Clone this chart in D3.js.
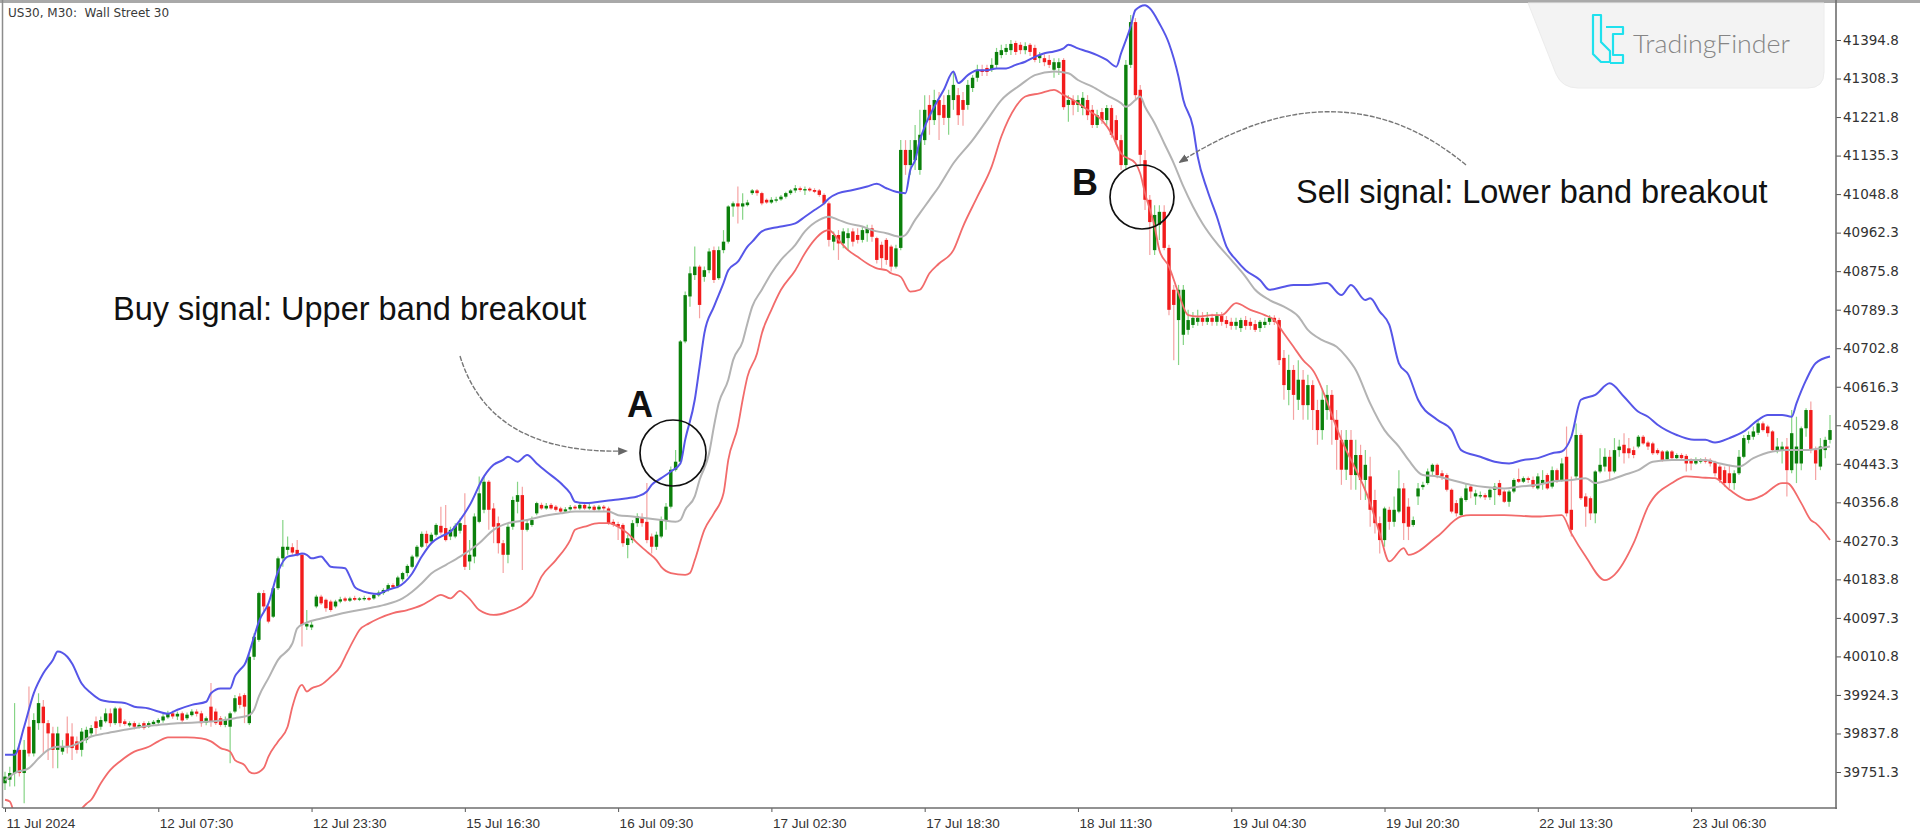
<!DOCTYPE html>
<html><head><meta charset="utf-8">
<script src="https://cdn.jsdelivr.net/npm/d3@7"></script>
<style>html,body{margin:0;padding:0;background:#fff;overflow:hidden}</style>
</head><body>
<svg id="chart" width="1920" height="840"></svg>
<script>
const chartTitle = "US30, M30:  Wall Street 30";
const priceTicks = [41394.8,41308.3,41221.8,41135.3,41048.8,40962.3,40875.8,40789.3,40702.8,40616.3,40529.8,40443.3,40356.8,40270.3,40183.8,40097.3,40010.8,39924.3,39837.8,39751.3];
const timeLabels = ["11 Jul 2024","12 Jul 07:30","12 Jul 23:30","15 Jul 16:30","16 Jul 09:30","17 Jul 02:30","17 Jul 18:30","18 Jul 11:30","19 Jul 04:30","19 Jul 20:30","22 Jul 13:30","23 Jul 06:30"];
const timeLabelBars = [0,32,64,96,128,160,192,224,256,288,320,352];

// [open, high, low, close] per M30 bar
const ohlc = [
[39726,39752,39711,39741],[39734,39763,39719,39749],[39749,39906,39719,39801],[39801,39816,39741,39749],[39749,39823,39681,39801],
[39853,39943,39786,39793],[39793,39883,39786,39868],[39861,39928,39846,39906],[39898,39913,39793,39861],[39861,39868,39778,39838],
[39838,39853,39760,39801],[39801,39853,39760,39838],[39797,39823,39790,39808],[39838,39876,39793,39808],[39831,39861,39778,39805],
[39820,39831,39793,39801],[39801,39850,39786,39842],[39823,39853,39816,39846],[39838,39857,39831,39850],[39865,39876,39835,39850],
[39853,39876,39846,39868],[39865,39894,39861,39883],[39883,39894,39853,39861],[39861,39898,39857,39894],[39894,39898,39853,39861],
[39865,39870,39855,39859],[39856,39865,39852,39861],[39861,39865,39847,39853],[39852,39862,39849,39857],[39861,39865,39846,39850],
[39853,39865,39850,39861],[39859,39868,39855,39864],[39862,39872,39859,39868],[39867,39882,39862,39876],[39874,39889,39871,39883],
[39883,39889,39871,39876],[39876,39887,39868,39882],[39883,39887,39862,39867],[39872,39885,39868,39880],[39879,39892,39876,39887],
[39887,39892,39876,39882],[39883,39889,39853,39861],[39862,39876,39856,39872],[39898,39951,39853,39865],[39887,39894,39857,39861],
[39872,39877,39853,39857],[39857,39876,39852,39868],[39853,39887,39771,39883],[39887,39924,39883,39917],[39921,39928,39894,39902],
[39924,39928,39861,39898],[39861,40018,39857,40010],[40010,40063,40003,40055],[40048,40156,40044,40153],[40153,40160,40108,40123],
[40123,40130,40085,40089],[40100,40168,40097,40164],[40164,40235,40160,40231],[40231,40317,40212,40257],[40250,40280,40239,40257],
[40256,40265,40239,40244],[40250,40272,40235,40239],[40239,40242,40033,40082],[40078,40115,40070,40084],[40076,40089,40070,40082],
[40123,40149,40119,40145],[40145,40149,40126,40130],[40138,40141,40111,40119],[40134,40138,40111,40115],[40123,40138,40119,40134],
[40134,40145,40130,40139],[40141,40145,40133,40136],[40136,40145,40133,40141],[40142,40147,40135,40138],[40138,40144,40135,40141],
[40139,40147,40136,40142],[40142,40145,40135,40138],[40141,40153,40138,40149],[40148,40159,40145,40154],[40153,40164,40149,40160],
[40160,40175,40156,40171],[40171,40175,40162,40166],[40168,40192,40164,40188],[40184,40201,40179,40198],[40198,40218,40190,40214],
[40212,40239,40209,40235],[40235,40261,40231,40257],[40257,40291,40254,40286],[40286,40293,40257,40265],[40269,40289,40265,40284],
[40284,40310,40280,40306],[40304,40347,40284,40289],[40299,40351,40269,40272],[40280,40302,40272,40295],[40280,40310,40276,40304],
[40293,40321,40287,40310],[40306,40377,40205,40212],
[40224,40272,40205,40239],[40235,40332,40220,40325],[40313,40415,40310,40377],[40340,40415,40332,40403],[40403,40407,40295,40340],
[40343,40355,40265,40302],[40310,40325,40242,40265],[40265,40272,40198,40239],[40239,40310,40220,40302],[40302,40370,40295,40362],
[40358,40403,40332,40373],[40373,40392,40205,40295],[40295,40317,40291,40310],[40306,40325,40302,40317],[40332,40358,40328,40355],
[40351,40356,40340,40343],[40343,40355,40340,40349],[40351,40355,40340,40343],[40347,40351,40336,40340],[40343,40347,40332,40336],
[40336,40346,40334,40341],[40341,40351,40338,40346],[40347,40351,40340,40343],[40343,40355,40340,40351],[40351,40355,40340,40343],
[40343,40353,40340,40347],[40347,40351,40336,40340],[40341,40351,40338,40347],[40347,40351,40338,40343],[40343,40347,40306,40310],
[40313,40319,40302,40306],[40308,40313,40272,40302],[40306,40310,40257,40265],[40261,40284,40231,40276],[40272,40317,40265,40310],
[40310,40332,40302,40325],[40323,40332,40302,40310],[40313,40400,40265,40272],[40280,40287,40242,40257],[40257,40291,40250,40284],
[40280,40325,40276,40317],[40317,40355,40295,40347],[40347,40437,40343,40430],[40430,40474,40426,40448],[40448,40721,40444,40718],
[40718,40830,40714,40822],[40819,40886,40796,40871],[40867,40931,40856,40886],[40886,40890,40770,40800],[40863,40886,40852,40878],
[40878,40927,40871,40920],[40923,40931,40849,40856],[40860,40931,40856,40923],[40923,40968,40916,40942],[40942,41024,40938,41021],
[41021,41032,40998,41028],[41028,41066,40983,41021],[41021,41051,40991,41028],[41024,41036,41021,41030],[41051,41060,41047,41057],
[41057,41060,41045,41051],[41051,41054,41024,41028],[41036,41039,41027,41030],[41030,41042,41027,41036],[41034,41043,41030,41037],
[41037,41047,41034,41043],[41043,41054,41039,41051],[41051,41060,41047,41057],[41057,41069,41052,41062],[41062,41066,41054,41058],
[41057,41066,41047,41060],[41061,41064,41054,41057],[41058,41062,41051,41054],[41057,41060,41043,41047],[41047,41051,41024,41028],
[41028,41032,40931,40946],[40942,40965,40923,40957],[40957,40968,40901,40938],[40938,40972,40927,40965],[40950,40972,40923,40961],
[40965,40972,40931,40942],[40957,40972,40938,40946],[40946,40976,40940,40968],[40961,40980,40942,40972],[40972,40980,40942,40953],
[40950,40953,40893,40901],[40935,40942,40882,40905],[40946,40950,40890,40901],[40931,40935,40875,40886],[40886,40935,40882,40927],
[40928,41170,40923,41148],[41148,41170,41092,41114],[41114,41170,41092,41148],[41125,41204,41103,41170],[41103,41238,41092,41182],
[41170,41271,41159,41238],[41249,41271,41182,41215],[41215,41283,41204,41260],[41260,41278,41170,41226],[41249,41271,41204,41220],
[41220,41283,41182,41271],[41260,41323,41238,41294],[41271,41287,41204,41226],[41260,41278,41202,41238],[41249,41305,41238,41294],
[41287,41316,41278,41310],[41310,41339,41301,41328],[41328,41339,41314,41323],[41332,41339,41314,41323],[41328,41354,41323,41339],
[41339,41377,41332,41368],[41361,41384,41354,41372],[41368,41386,41361,41377],[41372,41395,41361,41386],[41388,41393,41361,41368],
[41384,41390,41363,41372],[41372,41390,41363,41381],[41384,41388,41359,41368],[41377,41384,41345,41350],[41354,41368,41343,41361],
[41354,41363,41336,41345],[41350,41361,41332,41339],[41328,41354,41310,41345],[41332,41354,41316,41345],[41350,41354,41238,41244],
[41249,41271,41211,41260],[41260,41271,41226,41249],[41249,41271,41233,41260],[41242,41278,41226,41265],[41260,41271,41215,41226],
[41238,41249,41197,41204],[41204,41238,41197,41226],[41233,41242,41206,41215],[41215,41249,41204,41242],[41242,41249,41175,41182],
[41215,41226,41159,41170],[41170,41182,41103,41114],[41114,41350,41103,41339],[41339,41451,41332,41435],[41435,41444,41260,41271],
[41283,41294,41114,41137],[41125,41148,41013,41036],[41036,41047,40912,40986],[40923,41024,40912,41002],[40980,41024,40946,41009],
[41009,41024,40923,40928],[40928,40935,40777,40789],[40834,40845,40676,40800],[40766,40845,40665,40834],[40733,40845,40710,40834],
[40744,40789,40733,40766],[40755,40784,40748,40771],[40762,40789,40753,40771],[40771,40784,40753,40762],[40762,40784,40755,40771],
[40771,40780,40753,40762],[40762,40784,40753,40775],[40775,40784,40753,40762],[40766,40775,40748,40757],[40762,40771,40744,40753],
[40753,40771,40744,40762],[40748,40771,40739,40766],[40766,40775,40744,40753],[40762,40771,40744,40753],[40757,40766,40739,40744],
[40748,40766,40739,40762],[40755,40771,40748,40762],[40762,40777,40755,40771],[40771,40777,40755,40762],[40766,40771,40665,40676],
[40681,40699,40587,40620],[40609,40688,40575,40654],[40654,40665,40542,40598],[40587,40676,40564,40632],[40632,40654,40542,40575],
[40575,40643,40542,40620],[40620,40631,40519,40564],[40564,40587,40486,40519],[40519,40609,40497,40587],[40564,40620,40542,40598],
[40598,40609,40486,40542],[40542,40564,40430,40497],[40497,40519,40396,40430],[40430,40519,40407,40497],[40497,40519,40385,40418],
[40418,40497,40385,40463],[40463,40486,40362,40407],[40407,40474,40362,40441],
[40415,40459,40302,40340],[40362,40385,40287,40310],[40310,40325,40242,40272],[40272,40347,40257,40343],[40340,40347,40295,40313],
[40313,40370,40302,40340],[40336,40429,40332,40388],[40388,40400,40272,40310],[40347,40366,40272,40302],[40306,40325,40302,40317],
[40370,40400,40351,40388],[40391,40403,40385,40396],[40400,40433,40396,40426],[40426,40444,40418,40441],[40441,40444,40411,40418],
[40422,40429,40407,40415],[40418,40422,40381,40385],[40385,40388,40332,40336],[40355,40362,40325,40332],[40328,40370,40325,40366],
[40362,40400,40358,40388],[40392,40396,40366,40381],[40370,40385,40351,40377],[40370,40381,40366,40373],[40373,40377,40362,40368],
[40368,40388,40362,40385],[40385,40400,40351,40392],[40400,40407,40370,40373],[40381,40385,40355,40358],[40358,40385,40347,40381],
[40381,40411,40377,40407],[40409,40433,40400,40403],[40403,40415,40400,40411],[40411,40415,40400,40407],[40407,40415,40388,40392],
[40388,40422,40385,40415],[40400,40429,40385,40407],[40418,40422,40385,40388],[40392,40437,40388,40429],[40429,40433,40400,40407],
[40407,40456,40403,40444],[40459,40527,40325,40332],[40340,40415,40280,40295],[40415,40534,40407,40508],[40508,40512,40362,40366],
[40370,40377,40302,40347],[40366,40370,40317,40332],[40332,40429,40310,40426],[40426,40478,40422,40441],[40437,40478,40426,40459],
[40459,40474,40407,40426],[40426,40501,40422,40474],[40474,40497,40459,40482],[40486,40512,40444,40467],[40478,40501,40456,40467],
[40474,40482,40456,40463],[40482,40508,40478,40504],[40504,40508,40486,40489],[40491,40495,40474,40482],[40489,40493,40463,40467],
[40474,40478,40463,40467],[40471,40474,40448,40452],[40453,40474,40450,40471],[40471,40474,40452,40456],[40456,40467,40452,40463],
[40463,40467,40452,40456],[40461,40465,40426,40444],[40452,40456,40429,40444],[40444,40458,40441,40453],[40448,40456,40444,40452],
[40453,40458,40444,40448],[40452,40456,40437,40444],[40446,40450,40415,40422],[40437,40441,40400,40407],[40429,40437,40392,40400],
[40422,40441,40388,40400],[40400,40429,40385,40422],[40422,40474,40418,40459],[40459,40508,40456,40501],[40497,40516,40489,40508],
[40504,40527,40497,40516],[40513,40542,40508,40534],[40534,40538,40516,40519],[40527,40531,40504,40512],[40516,40519,40471,40474],
[40474,40501,40467,40482],[40474,40493,40444,40482],[40482,40501,40370,40429],[40429,40564,40422,40512],[40444,40549,40400,40482],
[40444,40527,40429,40523],[40523,40568,40504,40564],[40564,40583,40467,40474],[40474,40482,40407,40444],[40437,40501,40429,40482],
[40474,40504,40456,40497],[40497,40553,40489,40519]
];

// Bollinger bands: [bar, value]
const upperBand = [[0,39790],[2,39790],[4,39853],[6,39928],[8,39973],[10,40003],[11,40022],[13,40010],[14,39995],[16,39950],[18,39928],[20,39913],[22,39909],[25,39906],[27,39898],[30,39894],[32,39887],[34,39882],[36,39891],[39,39902],[42,39909],[43,39928],[45,39939],[47,39939],[48,39966],[49,39980],[50,39992],[52,40055],[53,40089],[55,40130],[57,40201],[59,40235],[61,40239],[62,40242],[63,40239],[64,40231],[66,40235],[67,40224],[68,40212],[71,40209],[72,40190],[73,40167],[74,40160],[76,40153],[78,40151],[79,40156],[81,40164],[82,40167],[85,40197],[87,40235],[89,40265],[91,40280],[93,40291],[95,40317],[97,40350],[100,40415],[102,40441],[104,40452],[105,40459],[107,40448],[109,40463],[111,40444],[113,40426],[116,40400],[118,40377],[119,40358],[121,40355],[124,40358],[127,40362],[130,40366],[132,40370],[134,40381],[135,40396],[137,40411],[139,40426],[141,40444],[142,40497],[144,40587],[145,40661],[146,40736],[148,40796],[150,40849],[151,40878],[153,40897],[155,40931],[156,40942],[158,40965],[160,40972],[162,40976],[165,40983],[167,40998],[169,41013],[171,41028],[172,41039],[174,41051],[177,41058],[180,41066],[182,41072],[184,41062],[186,41054],[188,41051],[189,41103],[190,41125],[191,41170],[192,41200],[194,41245],[196,41283],[198,41324],[199,41298],[201,41316],[203,41327],[205,41327],[207,41331],[209,41331],[211,41339],[213,41346],[215,41357],[217,41365],[219,41369],[221,41376],[222,41384],[224,41376],[226,41369],[228,41361],[230,41350],[232,41335],[233,41365],[235,41425],[236,41462],[238,41473],[239,41466],[241,41432],[243,41387],[245,41312],[246,41260],[248,41200],[249,41133],[251,41058],[253,40998],[255,40931],[257,40901],[259,40878],[262,40856],[264,40834],[267,40841],[269,40845],[272,40845],[276,40849],[279,40822],[281,40845],[284,40811],[285,40815],[287,40785],[289,40755],[291,40669],[293,40643],[295,40587],[299,40542],[302,40519],[304,40474],[308,40459],[311,40448],[314,40444],[317,40452],[320,40456],[323,40467],[325,40471],[327,40504],[329,40587],[332,40598],[335,40624],[338,40594],[341,40560],[343,40549],[345,40531],[349,40508],[352,40498],[355,40497],[357,40491],[360,40501],[363,40516],[366,40542],[368,40553],[371,40553],[373,40549],[374,40579],[376,40631],[378,40669],[381,40684]];
const middleBand = [[0,39733],[2,39749],[5,39760],[7,39782],[9,39801],[11,39808],[13,39808],[16,39820],[18,39831],[21,39838],[25,39846],[28,39852],[32,39857],[36,39861],[39,39862],[42,39864],[45,39867],[48,39872],[51,39879],[52,39891],[53,39921],[55,39962],[57,40003],[60,40040],[61,40074],[63,40087],[66,40096],[69,40104],[72,40111],[76,40119],[79,40126],[83,40141],[85,40156],[87,40175],[89,40197],[92,40216],[95,40235],[99,40265],[102,40295],[105,40310],[109,40317],[112,40325],[116,40332],[119,40336],[123,40336],[126,40336],[128,40328],[131,40325],[134,40321],[137,40317],[140,40313],[141,40317],[142,40340],[144,40370],[145,40407],[147,40467],[148,40527],[149,40579],[151,40632],[152,40676],[154,40718],[155,40759],[156,40796],[158,40834],[160,40871],[162,40901],[165,40935],[167,40965],[170,40991],[172,40998],[174,40991],[176,40983],[179,40976],[181,40968],[184,40961],[187,40953],[188,40957],[190,40991],[191,41006],[193,41036],[195,41066],[198,41118],[202,41170],[205,41215],[208,41260],[212,41294],[215,41316],[219,41324],[222,41320],[224,41305],[227,41290],[230,41271],[233,41253],[234,41245],[236,41260],[237,41268],[238,41245],[240,41208],[242,41163],[244,41118],[246,41066],[248,41021],[250,40983],[253,40938],[256,40901],[259,40863],[261,40834],[264,40811],[267,40796],[270,40774],[272,40744],[275,40721],[278,40706],[280,40684],[282,40654],[285,40579],[288,40519],[291,40482],[293,40452],[296,40418],[299,40415],[302,40407],[306,40396],[309,40391],[313,40388],[316,40392],[320,40396],[323,40403],[327,40407],[330,40411],[332,40400],[335,40407],[338,40418],[341,40429],[344,40448],[348,40452],[351,40452],[355,40452],[358,40444],[362,40437],[365,40456],[369,40471],[372,40474],[376,40474],[379,40478],[381,40482]];
const lowerBand = [[0,39689],[1,39685],[2,39659],[4,39645],[6,39636],[8,39629],[11,39594],[13,39615],[15,39655],[17,39680],[18,39689],[20,39726],[22,39756],[24,39775],[27,39797],[30,39808],[32,39820],[34,39829],[38,39829],[41,39827],[43,39820],[45,39805],[47,39797],[48,39778],[50,39767],[51,39752],[52,39748],[54,39760],[55,39786],[57,39820],[59,39853],[60,39898],[62,39947],[63,39932],[64,39939],[66,39947],[68,39965],[70,39988],[71,40010],[73,40052],[74,40070],[76,40085],[78,40096],[81,40108],[84,40115],[87,40126],[89,40138],[91,40149],[93,40141],[95,40158],[96,40150],[97,40140],[99,40115],[102,40104],[105,40111],[110,40145],[112,40190],[115,40227],[118,40272],[119,40295],[121,40302],[124,40310],[126,40310],[128,40302],[130,40287],[132,40265],[134,40246],[136,40227],[137,40212],[139,40198],[142,40194],[143,40198],[144,40227],[146,40295],[148,40332],[150,40377],[151,40452],[153,40527],[154,40587],[155,40639],[157,40691],[158,40736],[160,40789],[162,40834],[165,40878],[167,40916],[169,40946],[171,40965],[172,40968],[174,40946],[176,40923],[178,40908],[180,40893],[182,40882],[184,40878],[185,40871],[187,40863],[189,40830],[191,40834],[193,40871],[195,40893],[198,40923],[200,40976],[203,41043],[206,41111],[208,41178],[211,41245],[213,41268],[216,41275],[219,41283],[221,41271],[223,41260],[226,41238],[229,41215],[231,41185],[233,41140],[236,41118],[237,41095],[238,41051],[240,40976],[241,40923],[243,40886],[245,40826],[247,40777],[249,40774],[252,40777],[254,40777],[257,40804],[260,40789],[263,40777],[265,40766],[267,40736],[269,40706],[271,40676],[273,40654],[279,40497],[285,40355],[287,40287],[289,40224],[292,40254],[293,40239],[299,40280],[304,40325],[306,40328],[313,40328],[320,40325],[325,40328],[327,40287],[330,40235],[334,40182],[336,40194],[340,40265],[343,40347],[348,40400],[351,40415],[355,40412],[357,40411],[360,40385],[364,40362],[367,40373],[371,40400],[372,40400],[375,40355],[377,40317],[378,40310],[381,40272]];

const signalTexts = ["Buy signal: Upper band breakout","Sell signal: Lower band breakout"];
const pointLabels = ["A","B"];
const brandName = "TradingFinder";

const svg = d3.select('#chart');
const x = d3.scaleLinear().domain([0,381]).range([5,1830]);
const y = d3.scaleLinear().domain([39751.3,41394.8]).range([772,40]);
const P = {l:3, r:1836, t:3, b:808};

svg.append('rect').attr('width',1920).attr('height',840).attr('fill','#fff');
const defs = svg.append('defs');
defs.append('clipPath').attr('id','plotClip').append('rect')
  .attr('x',P.l).attr('y',P.t).attr('width',P.r-P.l).attr('height',P.b-P.t);
defs.append('marker').attr('id','arrowHead').attr('viewBox','0 0 10 10')
  .attr('refX',8).attr('refY',5).attr('markerWidth',7).attr('markerHeight',7)
  .attr('orient','auto').append('path').attr('d','M0,1 L10,5 L0,9 Z').attr('fill','#666');

// frame
svg.append('line').attr('x1',0).attr('x2',1920).attr('y1',1.5).attr('y2',1.5).attr('stroke','#a9a9a9').attr('stroke-width',3);
svg.append('line').attr('x1',2.5).attr('x2',2.5).attr('y1',0).attr('y2',P.b).attr('stroke','#8c8c8c').attr('stroke-width',1.5);

// watermark panel
const logo = svg.append('g');
logo.append('path').attr('d','M1528,3 L1824,3 L1824,72 Q1824,88 1808,88 L1578,88 Q1562,88 1556,74 Z')
  .attr('fill','#f3f3f3').attr('stroke','#ececec');
logo.append('path').attr('d','M1593,15 H1601 V42 L1610,51 V62 H1601 L1593,54 Z')
  .attr('fill','none').attr('stroke','#1fe1ee').attr('stroke-width',2.2).attr('stroke-linejoin','round');
logo.append('path').attr('d','M1606,27 H1623 V34 H1613 V55 H1623 V63 H1610')
  .attr('fill','none').attr('stroke','#1fe1ee').attr('stroke-width',2.2).attr('stroke-linejoin','round');
logo.append('text').attr('x',1633).attr('y',53).text(brandName)
  .attr('font-family','Lato, "Liberation Sans", sans-serif').attr('font-weight',300)
  .attr('font-size',25).attr('fill','#858585').attr('textLength',157).attr('lengthAdjust','spacingAndGlyphs');

const plot = svg.append('g').attr('clip-path','url(#plotClip)');

// candles
const candles = plot.append('g');
ohlc.forEach((d,i)=>{
  const [o,h,l,c] = d;
  const up = c >= o;
  candles.append('line').attr('x1',x(i)).attr('x2',x(i)).attr('y1',y(h)).attr('y2',y(l))
    .attr('stroke', up ? '#86d486' : '#f5a3a3').attr('stroke-width',1.2);
  const top = y(Math.max(o,c)), bot = y(Math.min(o,c));
  candles.append('rect').attr('x',x(i)-1.7).attr('width',3.4)
    .attr('y',top).attr('height',Math.max(1.2,bot-top))
    .attr('fill', up ? '#0b800b' : '#f21c1c');
});

// bands
const line = d3.line().x(d=>x(d[0])).y(d=>y(d[1])).curve(d3.curveMonotoneX);
plot.append('path').datum(middleBand).attr('d',line).attr('fill','none').attr('stroke','#b3b3b3').attr('stroke-width',2);
plot.append('path').datum(lowerBand).attr('d',line).attr('fill','none').attr('stroke','#f26b6b').attr('stroke-width',1.8);
plot.append('path').datum(upperBand).attr('d',line).attr('fill','none').attr('stroke','#5656e8').attr('stroke-width',2);

// axes
const yAxis = d3.axisRight(y).tickValues(priceTicks).tickFormat(d3.format('.1f')).tickSize(5).tickPadding(2);
const gy = svg.append('g').attr('transform',`translate(${P.r},0)`).call(yAxis);
gy.select('.domain').remove();
gy.selectAll('line').attr('stroke','#555');
gy.selectAll('text').attr('font-family','"DejaVu Sans", sans-serif').attr('font-size',13.5).attr('fill','#333');

const xAxis = d3.axisBottom(x).tickValues(timeLabelBars).tickFormat((d,i)=>timeLabels[i]).tickSize(4);
const gx = svg.append('g').attr('transform',`translate(0,${P.b})`).call(xAxis);
gx.select('.domain').remove();
gx.selectAll('line').attr('stroke','#555');
gx.selectAll('text').attr('text-anchor','start').attr('x',1).attr('y',10)
  .attr('font-family','"Liberation Sans", Arial, sans-serif').attr('font-size',13.5).attr('fill','#333');

svg.append('line').attr('x1',P.r).attr('x2',P.r).attr('y1',0).attr('y2',P.b+1).attr('stroke','#6e6e6e').attr('stroke-width',1.6);
svg.append('line').attr('x1',P.l).attr('x2',P.r+1).attr('y1',P.b).attr('y2',P.b).attr('stroke','#6e6e6e').attr('stroke-width',1.6);

// title
svg.append('text').attr('x',8).attr('y',17).text(chartTitle).style('white-space','pre')
  .attr('font-family','"DejaVu Sans", sans-serif').attr('font-size',12).attr('fill','#3a3a3a');

// annotations
const ann = svg.append('g');
const sigFont = '"Liberation Sans", Arial, sans-serif';
ann.append('text').attr('x',113).attr('y',320).text(signalTexts[0])
  .attr('font-family',sigFont).attr('font-size',32.5).attr('fill','#111');
ann.append('text').attr('x',1296).attr('y',203).text(signalTexts[1])
  .attr('font-family',sigFont).attr('font-size',32.5).attr('fill','#111');
ann.append('text').attr('x',627).attr('y',417).text(pointLabels[0])
  .attr('font-family',sigFont).attr('font-weight','bold').attr('font-size',36).attr('fill','#111');
ann.append('text').attr('x',1072).attr('y',195).text(pointLabels[1])
  .attr('font-family',sigFont).attr('font-weight','bold').attr('font-size',36).attr('fill','#111');
ann.append('circle').attr('cx',673).attr('cy',453).attr('r',33)
  .attr('fill','none').attr('stroke','#111').attr('stroke-width',1.7);
ann.append('circle').attr('cx',1142).attr('cy',197).attr('r',32)
  .attr('fill','none').attr('stroke','#111').attr('stroke-width',1.7);
ann.append('path').attr('d','M460,356 Q490,455 626,451')
  .attr('fill','none').attr('stroke','#777').attr('stroke-width',1.4).attr('stroke-dasharray','5 1.5')
  .attr('marker-end','url(#arrowHead)');
ann.append('path').attr('d','M1466,165 Q1340,60 1180,162')
  .attr('fill','none').attr('stroke','#777').attr('stroke-width',1.4).attr('stroke-dasharray','5 1.5')
  .attr('marker-end','url(#arrowHead)');
</script>
</body></html>
